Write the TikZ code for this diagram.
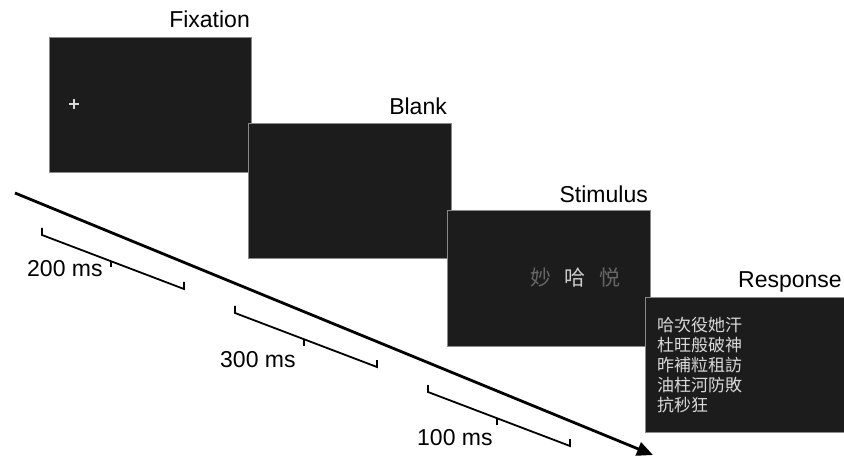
\documentclass[tikz,border=0pt]{standalone}
\usepackage{fontspec}
\setmainfont{Liberation Sans}
\newfontfamily\cjk{Noto Sans CJK TC}
\usetikzlibrary{arrows.meta}
\definecolor{screen}{HTML}{1C1C1C}
\definecolor{rim}{HTML}{8A8A8A}
\begin{document}
\begin{tikzpicture}[x=1pt,y=-1pt,
  screenbox/.style={fill=screen,draw=rim,line width=1pt},
  lbl/.style={inner sep=0pt,font=\fontsize{23}{23}\selectfont},
  brk/.style={line width=1.8pt,line join=miter},
  cjkw/.style={inner sep=0pt,font=\cjk\fontsize{17}{20}\selectfont,text=white!85!black,align=left}]
\useasboundingbox (0,0) rectangle (844,457);
\begin{scope}
\clip (0,0) rectangle (844,457);
% screens
\draw[screenbox] (49,38) rectangle (251,173);
\draw[screenbox] (248,124) rectangle (451,259);
\draw[screenbox] (447,211) rectangle (650,346);
\draw[screenbox] (645,298) rectangle (850,432);
\end{scope}
% labels
\node[lbl,anchor=base east] (fix) at (250,28) {Fixation};
\node[lbl,anchor=base east] (blank) at (447,115) {Blank};
\node[lbl,anchor=base east] (stim) at (648,203) {Stimulus};
\node[lbl,anchor=base east] (resp) at (842,288) {Response};
% fixation cross
\node[inner sep=0pt] (cross) at (74,104) {};
\draw[white!85!black,line width=1.2pt] ([xshift=-5pt]cross.center) -- ([xshift=5pt]cross.center)
  ([yshift=-5pt]cross.center) -- ([yshift=5pt]cross.center);
% stimulus
\node[inner sep=0pt,font=\cjk\fontsize{21}{21}\selectfont,text=white!40!black] (s1) at (541,278) {妙};
\node[inner sep=0pt,font=\cjk\fontsize{21}{21}\selectfont,text=white!80!black] (s2) at (575,278) {哈};
\node[inner sep=0pt,font=\cjk\fontsize{21}{21}\selectfont,text=white!40!black] (s3) at (610,278) {悦};
% response
\node[cjkw,anchor=north west] (rtext) at (657,317) {哈次役她汗\\杜旺般破神\\昨補粒租訪\\油柱河防敗\\抗秒狂};
% timeline
\coordinate (t0) at (15,193);
\coordinate (t1) at (653,455);
\draw[line width=2.8pt,-{Triangle[length=16pt,width=14pt]}] (t0) -- (t1);
% brackets
\foreach \x/\y/\n in {42/235/a,235/313/b,428/392/c}{
  \coordinate (\n1) at (\x,\y);
  \coordinate (\n2) at (\x+142,\y+54);
  \coordinate (\n m) at (\x+69,\y+26.5);
  \draw[brk] ([yshift=7pt]\n1) -- (\n1) -- (\n2) -- ([yshift=7pt]\n2);
  \draw[brk] (\n m) -- ([yshift=-6pt]\n m);
}
\node[lbl,anchor=base west] (l200) at (27,277) {200 ms};
\node[lbl,anchor=base west] (l300) at (220,367) {300 ms};
\node[lbl,anchor=base west] (l100) at (417,445) {100 ms};
\end{tikzpicture}
\end{document}
